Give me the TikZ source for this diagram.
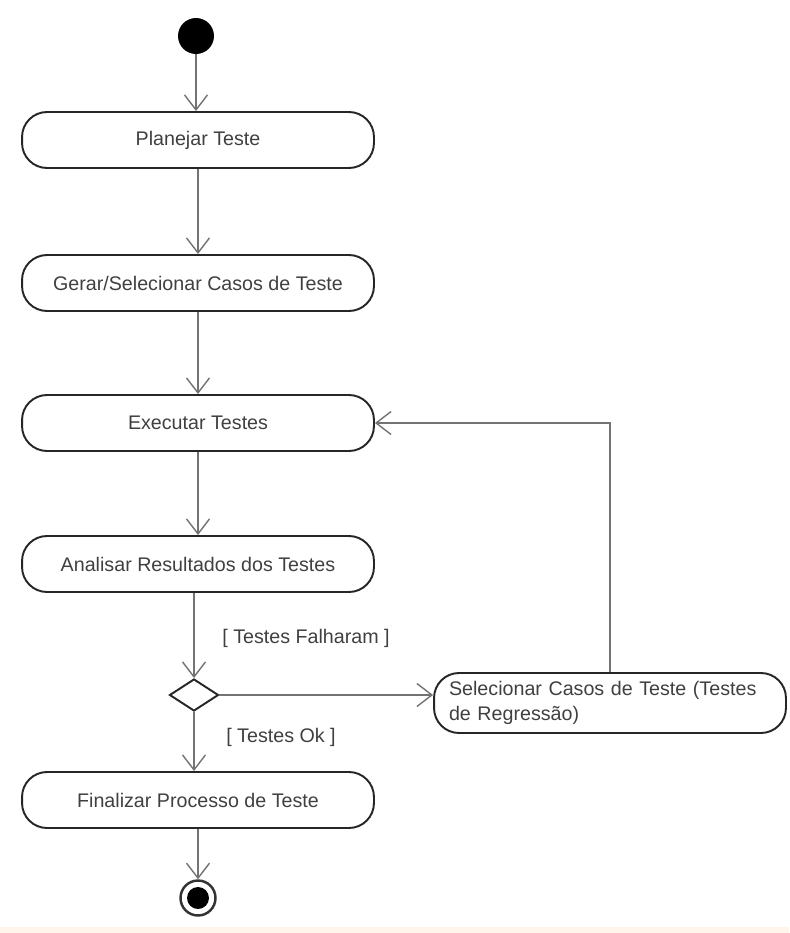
\documentclass[tikz,border=0pt]{standalone}
\usepackage{fontspec}
\setmainfont{Liberation Sans}
\usetikzlibrary{arrows.meta,shapes.geometric}

\begin{document}
\begin{tikzpicture}[
                x=0.02cm, y=-0.02cm,
                every node/.style={font=\fontsize{11.2}{14}\selectfont, text=black!75},
                acao/.style={draw=black!85, line width=1.1pt, rounded corners=0.5cm,
                    minimum width=7.04cm, minimum height=1.12cm, inner sep=0pt},
                fluxo/.style={draw=black!55, line width=0.8pt,
                    -{Straight Barb[length=3mm, width=4.6mm]}},
            ]
            \useasboundingbox (0,0) rectangle (789,933);
            \fill[orange!8] (0,927) rectangle (789,933);

            % inicio e fim
            \node[circle, fill=black, minimum size=0.72cm, inner sep=0pt] (ini) at (196,36) {};
            \node[circle, draw=black!80, line width=1.4pt, minimum size=0.7cm, inner sep=0pt] (fim) at (198,898) {};
            \fill[black] (fim.center) circle (0.22cm);

            % atividades
            \node[acao] (p1) at (198,140) {Planejar Teste};
            \node[acao] (p2) at (198,283) {Gerar/Selecionar Casos de Teste};
            \node[acao] (p3) at (198,423) {Executar Testes};
            \node[acao] (p4) at (198,564) {Analisar Resultados dos Testes};
            \node[acao] (p5) at (198,800) {Finalizar Processo de Teste};
            \node[acao, minimum height=1.2cm, align=left, text width=6.44cm, inner xsep=0.3cm] (sel) at (610,703)
                {Selecionar Casos de Teste (Testes\\de Regressão)};

            % decisao
            \node[diamond, draw=black!85, line width=1.1pt, minimum width=0.98cm, minimum height=0.64cm, inner sep=0pt] (dec) at (194,695) {};

            % rotulos
            \node (lf) at (306,638) {[ Testes Falharam ]};
            \node (lo) at (281,737) {[ Testes Ok ]};

            % fluxos
            \draw[fluxo] (ini) -- (ini |- p1.north);
            \draw[fluxo] (p1) -- (p2);
            \draw[fluxo] (p2) -- (p3);
            \draw[fluxo] (p3) -- (p4);
            \draw[fluxo] (p4.south -| dec) -- (dec);
            \draw[fluxo] (dec) -- (p5.north -| dec);
            \draw[fluxo] (dec.east) -- (dec.east -| sel.west);
            \draw[fluxo] (sel.north) |- (p3.east);
            \draw[fluxo] (p5.south -| fim) -- (fim);
        \end{tikzpicture}
\end{document}
